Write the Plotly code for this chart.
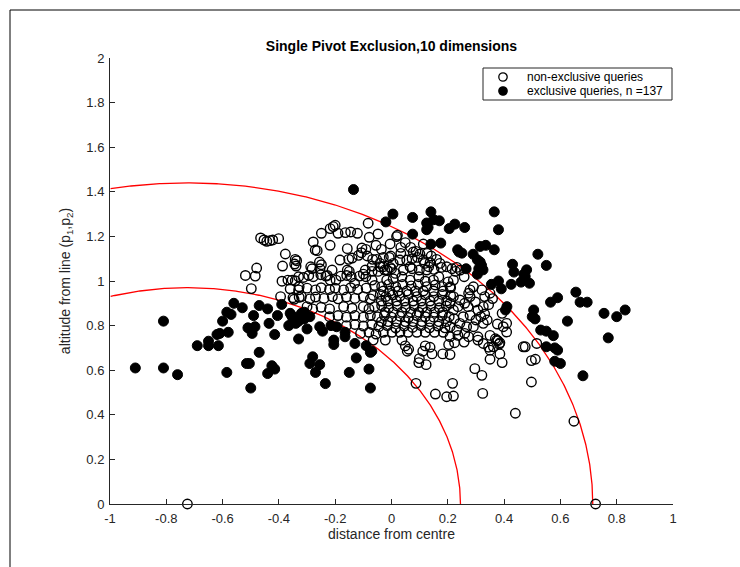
import numpy as np
import plotly.graph_objects as go

# ---------------- data ----------------
pivot_x = [-0.725, 0.725]          # the two pivots p1, p2 on the baseline
pivot_y = [0.0, 0.0]
arc_centre = -0.725
arc_radii = [0.97, 1.44]

x_ticks = [-1, -0.8, -0.6, -0.4, -0.2, 0, 0.2, 0.4, 0.6, 0.8, 1]
x_tick_labels = ["-1", "-0.8", "-0.6", "-0.4", "-0.2", "0", "0.2", "0.4", "0.6", "0.8", "1"]
y_ticks = [0, 0.2, 0.4, 0.6, 0.8, 1, 1.2, 1.4, 1.6, 1.8, 2]
y_tick_labels = ["0", "0.2", "0.4", "0.6", "0.8", "1", "1.2", "1.4", "1.6", "1.8", "2"]

legend_labels = ["non-exclusive queries", "exclusive queries, n =%d"]

# exclusive queries (filled)
excl_inner = [
    (-0.91, 0.61), (-0.81, 0.61), (-0.76, 0.58), (-0.81, 0.82), (-0.69, 0.71), (-0.65, 0.71),
    (-0.65, 0.73), (-0.615, 0.71), (-0.61, 0.765), (-0.62, 0.76), (-0.60, 0.82), (-0.585, 0.86),
    (-0.57, 0.85), (-0.56, 0.90), (-0.53, 0.88), (-0.585, 0.59), (-0.515, 0.63), (-0.505, 0.63),
    (-0.47, 0.68), (-0.50, 0.52), (-0.47, 0.89), (-0.44, 0.875), (-0.49, 0.845), (-0.51, 0.79),
    (-0.485, 0.795), (-0.495, 0.765), (-0.435, 0.81), (-0.415, 0.76), (-0.425, 0.62), (-0.415, 0.605),
    (-0.44, 0.585), (-0.39, 0.895), (-0.405, 0.845), (-0.36, 0.855), (-0.35, 0.83), (-0.365, 0.80),
    (-0.34, 0.81), (-0.325, 0.84), (-0.31, 0.83), (-0.32, 0.855), (-0.29, 0.84), (-0.30, 0.785),
    (-0.33, 0.74), (-0.28, 0.66), (-0.29, 0.63), (-0.255, 0.625), (-0.27, 0.59), (-0.235, 0.54),
    (-0.255, 0.795), (-0.245, 0.775), (-0.215, 0.80), (-0.195, 0.795), (-0.205, 0.735), (-0.205, 0.715),
    (-0.165, 0.75), (-0.165, 0.77), (-0.13, 0.72), (-0.125, 0.655), (-0.15, 0.59), (-0.09, 0.71),
    (-0.075, 0.68), (-0.07, 0.685), (-0.08, 0.605), (-0.075, 0.52), (-0.33, 0.82), (-0.31, 0.86),
    (-0.355, 0.845), (-0.58, 0.77),
]
excl_outer = [
    (-0.135, 1.41), (0.005, 1.30), (-0.02, 1.265), (0.075, 1.285), (0.14, 1.31), (0.125, 1.26),
    (0.15, 1.275), (0.17, 1.27), (0.125, 1.23), (0.075, 1.21), (0.205, 1.235), (0.225, 1.255),
    (0.26, 1.24), (0.365, 1.31), (0.38, 1.23), (0.14, 1.165), (0.175, 1.17), (0.235, 1.14),
    (0.25, 1.125), (0.29, 1.12), (0.315, 1.155), (0.335, 1.16), (0.365, 1.14), (0.305, 1.095),
    (0.315, 1.085), (0.31, 1.055), (0.325, 1.05), (0.305, 1.03), (0.265, 1.055), (0.52, 1.12),
    (0.55, 1.07), (0.43, 1.075), (0.435, 1.04), (0.48, 1.05), (0.475, 1.02), (0.46, 0.995),
    (0.49, 0.99), (0.425, 0.985), (0.38, 1.00), (0.355, 0.985), (0.39, 0.965), (0.655, 0.95),
    (0.59, 0.925), (0.565, 0.905), (0.67, 0.905), (0.695, 0.905), (0.755, 0.855), (0.80, 0.84),
    (0.83, 0.87), (0.505, 0.87), (0.50, 0.84), (0.51, 0.83), (0.41, 0.885), (0.405, 0.87),
    (0.625, 0.82), (0.53, 0.78), (0.55, 0.775), (0.575, 0.755), (0.77, 0.745), (0.55, 0.705),
    (0.59, 0.69), (0.58, 0.64), (0.60, 0.63), (0.68, 0.575), (0.32, 1.07), (0.47, 1.03),
    (0.24, 1.13), (0.13, 1.24), (0.58, 0.70),
]

# non-exclusive queries (open)
open_left = [
    (-0.465, 1.193), (-0.453, 1.184), (-0.443, 1.178), (-0.432, 1.181), (-0.422, 1.184), (-0.401, 1.19),
    (-0.377, 1.121), (-0.387, 1.067), (-0.342, 1.097), (-0.337, 1.091), (-0.339, 1.067), (-0.344, 1.076),
    (-0.479, 1.058), (-0.519, 1.025), (-0.484, 1.022), (-0.498, 0.966), (-0.389, 0.999), (-0.368, 1.004),
    (-0.353, 1.004), (-0.342, 1.001), (-0.394, 0.93), (-0.346, 0.918), (-0.33, 1.019), (-0.328, 0.974),
    (-0.328, 0.927),
]
open_upper = [
    (-0.249, 1.214), (-0.218, 1.235), (-0.200, 1.250), (-0.19, 1.214), (-0.164, 1.217), (-0.145, 1.22),
    (-0.121, 1.214), (-0.083, 1.259), (-0.048, 1.211), (-0.079, 1.196), (0.018, 1.199), (-0.207, 1.244),
    (-0.278, 1.175), (-0.271, 1.139), (-0.264, 1.136), (-0.218, 1.16), (-0.157, 1.145), (-0.105, 1.148),
    (-0.091, 1.142), (-0.055, 1.16), (-0.036, 1.142), (-0.005, 1.166), (-0.287, 1.064), (-0.282, 1.055),
    (-0.254, 1.055), (-0.249, 1.073), (-0.256, 1.085), (-0.228, 1.025), (-0.183, 1.094), (-0.152, 1.097),
    (-0.14, 1.103), (-0.157, 1.049), (-0.159, 1.025), (-0.117, 1.115), (-0.1, 1.031), (-0.093, 1.049),
    (-0.067, 1.097), (-0.053, 1.097), (-0.069, 1.067), (-0.029, 1.064), (-0.015, 1.049), (0.0, 1.055),
    (0.014, 1.034), (-0.029, 1.106), (-0.008, 1.106), (0.006, 1.079), (-0.107, 1.127), (-0.086, 1.112),
    (-0.211, 1.049), (-0.15, 1.043), (-0.143, 1.019), (-0.069, 1.043), (-0.048, 1.043), (-0.041, 1.064),
    (-0.024, 1.049), (-0.069, 1.004), (-0.091, 1.019), (-0.114, 1.022), (-0.131, 0.99), (-0.18, 1.022),
    (-0.197, 1.004), (-0.218, 1.004), (-0.233, 1.022), (-0.251, 1.028), (-0.278, 1.019), (-0.294, 1.025),
    (-0.313, 1.016),
    (0.021, 1.205), (0.033, 1.151), (0.049, 1.172), (0.068, 1.151), (0.077, 1.13), (0.101, 1.121),
    (0.113, 1.166), (-0.003, 1.112), (0.03, 1.094), (0.033, 1.124), (0.054, 1.094), (0.073, 1.10),
    (0.087, 1.133), (0.092, 1.106), (0.113, 1.094), (0.127, 1.124), (0.141, 1.112), (0.137, 1.082),
    (0.16, 1.097), (0.172, 1.079), (0.177, 1.061), (0.196, 1.064), (0.227, 1.043), (0.118, 1.079),
    (0.132, 1.064), (0.151, 1.052), (0.066, 1.064), (-0.005, 1.061), (-0.041, 1.079), (0.042, 1.049),
    (0.073, 1.055), (0.099, 1.049), (0.125, 1.049),
]
open_core = [
    (0.201, 0.996), (0.168, 1.019), (0.149, 1.004), (0.12, 0.999), (0.097, 1.019), (0.066, 1.004),
    (0.037, 1.019), (0.006, 1.01), (-0.017, 1.004),
    (0.184, 0.955), (0.149, 0.955), (0.113, 0.955), (0.085, 0.955), (0.054, 0.955), (0.023, 0.955),
    (-0.005, 0.955), (-0.029, 0.955),
    (0.196, 0.91), (0.168, 0.91), (0.137, 0.91), (0.106, 0.91), (0.077, 0.91), (0.047, 0.91),
    (0.018, 0.91), (-0.012, 0.91), (-0.036, 0.91),
    (0.182, 0.86), (0.153, 0.86), (0.125, 0.86), (0.097, 0.86), (0.068, 0.86), (0.037, 0.86),
    (0.006, 0.86), (-0.022, 0.86),
    (0.196, 0.818), (0.168, 0.818), (0.137, 0.818), (0.108, 0.818), (0.077, 0.818), (0.049, 0.818),
    (0.018, 0.818), (-0.012, 0.818), (-0.036, 0.818),
    (0.184, 0.77), (0.153, 0.77), (0.12, 0.77), (0.09, 0.77), (0.059, 0.77), (0.03, 0.77),
    (0.002, 0.77), (-0.029, 0.77),
    (-0.06, 0.98), (-0.035, 0.975), (-0.01, 0.985), (0.015, 0.975), (0.04, 0.985), (0.07, 0.978),
    (0.095, 0.985), (0.125, 0.975), (0.155, 0.982), (0.18, 0.975), (0.21, 0.97),
    (-0.065, 0.935), (-0.04, 0.94), (-0.02, 0.93), (0.005, 0.938), (0.03, 0.932), (0.06, 0.94),
    (0.09, 0.93), (0.12, 0.938), (0.15, 0.93), (0.18, 0.94), (0.21, 0.935),
    (-0.06, 0.885), (-0.035, 0.89), (-0.01, 0.88), (0.02, 0.888), (0.05, 0.882), (0.08, 0.89),
    (0.11, 0.882), (0.14, 0.888), (0.17, 0.88), (0.195, 0.888),
    (-0.05, 0.84), (-0.025, 0.845), (0.0, 0.838), (0.03, 0.842), (0.06, 0.836), (0.09, 0.845),
    (0.12, 0.84), (0.15, 0.838), (0.18, 0.845), (0.205, 0.84),
    (-0.045, 0.795), (-0.015, 0.80), (0.015, 0.79), (0.045, 0.798), (0.075, 0.792), (0.105, 0.80),
    (0.135, 0.79), (0.165, 0.798), (0.19, 0.79),
]
open_midleft = [
    (-0.36, 0.965), (-0.33, 0.96), (-0.30, 0.968), (-0.27, 0.96), (-0.25, 0.97), (-0.22, 0.962),
    (-0.20, 0.968), (-0.17, 0.96), (-0.145, 0.97), (-0.12, 0.962), (-0.09, 0.968),
    (-0.35, 0.925), (-0.32, 0.93), (-0.29, 0.92), (-0.27, 0.928), (-0.24, 0.922), (-0.21, 0.93),
    (-0.19, 0.92), (-0.16, 0.928), (-0.13, 0.922), (-0.10, 0.93), (-0.075, 0.92),
    (-0.30, 0.885), (-0.28, 0.875), (-0.25, 0.882), (-0.22, 0.875), (-0.17, 0.885), (-0.14, 0.878),
    (-0.10, 0.885), (-0.08, 0.875),
    (-0.22, 0.84), (-0.19, 0.845), (-0.16, 0.838), (-0.13, 0.845), (-0.10, 0.838), (-0.075, 0.845),
    (-0.16, 0.80), (-0.13, 0.805), (-0.10, 0.798), (-0.07, 0.805),
    (-0.11, 0.765), (-0.08, 0.77), (-0.055, 0.762),
]
open_right = [
    (0.215, 1.055), (0.232, 1.061), (0.244, 1.049), (0.22, 1.004), (0.258, 1.019), (0.208, 0.974),
    (0.291, 0.974), (0.279, 0.96), (0.274, 0.945), (0.321, 0.96), (0.331, 0.93), (0.35, 0.945),
    (0.359, 0.921), (0.22, 0.93), (0.243, 0.915), (0.26, 0.9), (0.272, 0.885), (0.236, 0.885),
    (0.22, 0.87), (0.208, 0.90), (0.307, 0.87), (0.326, 0.885), (0.345, 0.894), (0.331, 0.852),
    (0.317, 0.84), (0.34, 0.825), (0.326, 0.81), (0.30, 0.825), (0.279, 0.846), (0.255, 0.84),
    (0.243, 0.81), (0.222, 0.831), (0.208, 0.795), (0.232, 0.78), (0.267, 0.795), (0.291, 0.795),
    (0.26, 0.765), (0.274, 0.75), (0.236, 0.756), (0.208, 0.75), (0.393, 0.855), (0.409, 0.81),
    (0.397, 0.795), (0.409, 0.771), (0.35, 0.756), (0.369, 0.741), (0.385, 0.723), (0.307, 0.75),
    (0.326, 0.72), (0.362, 0.705), (0.279, 0.93), (0.298, 0.906), (0.376, 0.807), (0.378, 0.732),
    (0.35, 0.69),
]
open_lower = [
    (-0.065, 0.735), (-0.022, 0.735), (0.037, 0.735), (0.049, 0.709), (0.061, 0.694), (0.056, 0.685),
    (0.111, 0.685), (0.12, 0.709), (0.137, 0.703), (0.144, 0.673), (0.099, 0.652), (0.097, 0.634),
    (0.123, 0.625), (0.182, 0.673), (0.208, 0.67), (0.203, 0.715), (0.224, 0.723), (0.258, 0.726),
    (0.087, 0.541), (0.156, 0.493), (0.196, 0.481), (0.22, 0.484), (0.217, 0.541), (0.296, 0.607),
    (0.321, 0.577), (0.324, 0.496), (0.307, 0.735), (0.345, 0.703), (0.35, 0.649), (0.374, 0.735),
    (0.383, 0.717), (0.385, 0.673), (0.393, 0.634), (0.468, 0.705), (0.475, 0.705), (0.516, 0.72),
    (0.497, 0.643), (0.511, 0.649), (0.497, 0.547), (0.44, 0.407), (0.648, 0.371),
]

# ---------------- figure ----------------
open_pts = open_left + open_upper + open_core + open_midleft + open_right + open_lower
excl_pts = excl_inner + excl_outer
ox = [p[0] for p in open_pts] + pivot_x
oy = [p[1] for p in open_pts] + pivot_y
ex = [p[0] for p in excl_pts]
ey = [p[1] for p in excl_pts]

W, H = 740, 567
L, R, T, B = 110, 67, 58, 63
PW, PH = W - L - R, H - T - B


def px_to_paper(px, py):
    return (px - L) / PW, (H - B - py) / PH


fig = go.Figure()

theta = np.linspace(0, np.pi, 800)
for r in arc_radii:
    ax_ = arc_centre + r * np.cos(theta)
    ay_ = r * np.sin(theta)
    keep = ax_ >= -1
    fig.add_trace(go.Scatter(x=ax_[keep], y=ay_[keep], mode="lines",
                             line=dict(color="#ff0000", width=1.3),
                             showlegend=False, hoverinfo="skip"))

fig.add_trace(go.Scatter(x=ox, y=oy, mode="markers", name=legend_labels[0],
                         marker=dict(symbol="circle-open", size=9.5, color="black",
                                     line=dict(width=1.4, color="black")),
                         cliponaxis=False, showlegend=False))
fig.add_trace(go.Scatter(x=ex, y=ey, mode="markers",
                         name=legend_labels[1] % len(excl_pts),
                         marker=dict(symbol="circle", size=10, color="black",
                                     line=dict(width=1, color="black")),
                         cliponaxis=False, showlegend=False))

font_family = "Liberation Sans, Arial, Helvetica, sans-serif"
axis_common = dict(showgrid=False, zeroline=False, showline=True, linecolor="#262626",
                   linewidth=1, ticks="inside", ticklen=5, tickwidth=1, tickcolor="#262626",
                   tickfont=dict(size=13, color="#262626", family=font_family))

# --- legend box drawn by hand (MATLAB style) ---
bx0, by0 = px_to_paper(483, 100)
bx1, by1 = px_to_paper(672, 68)
shapes = [
    dict(type="rect", xref="paper", yref="paper", x0=bx0, x1=bx1, y0=by0, y1=by1,
         line=dict(color="#262626", width=1), fillcolor="white", layer="above"),
    dict(type="line", xref="paper", yref="paper",
         x0=px_to_paper(10, 0)[0], x1=px_to_paper(740, 0)[0],
         y0=px_to_paper(0, 10)[1], y1=px_to_paper(0, 10)[1],
         line=dict(color="black", width=1)),
    dict(type="line", xref="paper", yref="paper",
         x0=px_to_paper(10, 0)[0], x1=px_to_paper(10, 0)[0],
         y0=px_to_paper(0, 10)[1], y1=px_to_paper(0, 567)[1],
         line=dict(color="black", width=1)),
]
row_y = [77, 91]
sym_x = 503
for i, yy in enumerate(row_y):
    sx, sy = px_to_paper(sym_x, yy)
    shapes.append(dict(type="circle", xref="paper", yref="paper",
                       xsizemode="pixel", ysizemode="pixel", xanchor=sx, yanchor=sy,
                       x0=-4.2, x1=4.2, y0=-4.2, y1=4.2, layer="above",
                       line=dict(color="black", width=1.3),
                       fillcolor="white" if i == 0 else "black"))

annotations = []
for i, yy in enumerate(row_y):
    tx, ty = px_to_paper(525, yy)
    txt = legend_labels[i] if i == 0 else legend_labels[i] % len(excl_pts)
    annotations.append(dict(text=txt, xref="paper", yref="paper", x=tx, y=ty,
                            xanchor="left", yanchor="middle", showarrow=False,
                            font=dict(size=12, color="black", family=font_family)))

fig.update_layout(
    width=W, height=H,
    margin=dict(l=L, r=R, t=T, b=B),
    paper_bgcolor="white", plot_bgcolor="white",
    font=dict(family=font_family, color="#262626"),
    title=dict(text="<b>Single Pivot Exclusion,10 dimensions</b>", x=391.5 / W, xanchor="center",
               y=1 - 46 / H, yanchor="middle", font=dict(size=14, color="black")),
    xaxis=dict(range=[-1, 1], tickvals=x_ticks, ticktext=x_tick_labels,
               ticklabelstandoff=2,
               title=dict(text="distance from centre", font=dict(size=14), standoff=2),
               **axis_common),
    yaxis=dict(range=[0, 2], tickvals=y_ticks, ticktext=y_tick_labels,
               ticklabelstandoff=2,
               title=dict(text="altitude from line (p<sub>1</sub>,p<sub>2</sub>)",
                          font=dict(size=14), standoff=12),
               **axis_common),
    showlegend=False,
    shapes=shapes,
    annotations=annotations,
)

fig.write_html("out.html")
